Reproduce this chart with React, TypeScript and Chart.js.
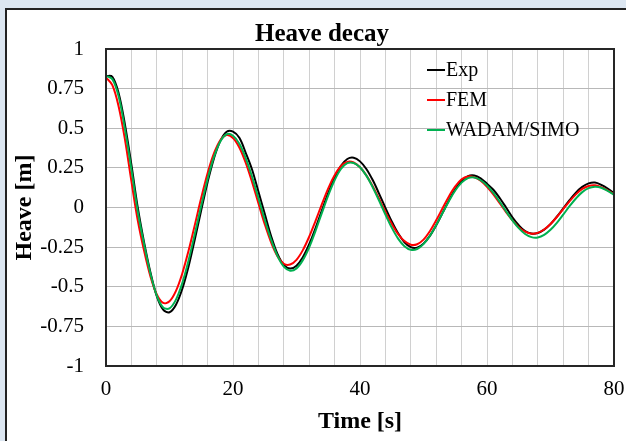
import React, { useEffect, useRef } from "react";
import { Chart, registerables } from "chart.js";

Chart.register(...registerables);

const TIME = [
  0, 1, 2, 3, 4, 5, 6, 7, 8, 9, 10, 11, 12, 13, 14, 15, 16, 17, 18, 19, 20,
  21, 22, 23, 24, 25, 26, 27, 28, 29, 30, 31, 32, 33, 34, 35, 36, 37, 38, 39, 40,
  41, 42, 43, 44, 45, 46, 47, 48, 49, 50, 51, 52, 53, 54, 55, 56, 57, 58, 59, 60,
  61, 62, 63, 64, 65, 66, 67, 68, 69, 70, 71, 72, 73, 74, 75, 76, 77, 78, 79, 80,
];

const EXP = [
  0.83, 0.825, 0.72, 0.52, 0.27, 0.0, -0.22, -0.41, -0.56, -0.645, -0.661,
  -0.615, -0.515, -0.372, -0.199, -0.016, 0.16, 0.31, 0.42, 0.478, 0.479,
  0.44, 0.345, 0.24, 0.1, -0.04, -0.18, -0.293, -0.362, -0.385, -0.367,
  -0.314, -0.232, -0.13, -0.018, 0.092, 0.19, 0.263, 0.306, 0.314, 0.291,
  0.243, 0.173, 0.088, -0.002, -0.088, -0.163, -0.219, -0.25, -0.253, -0.228,
  -0.179, -0.112, -0.034, 0.045, 0.115, 0.168, 0.198, 0.202, 0.184, 0.15,
  0.112, 0.06, 0.0, -0.062, -0.112, -0.149, -0.164, -0.161, -0.14, -0.105,
  -0.058, -0.006, 0.046, 0.094, 0.13, 0.152, 0.157, 0.143, 0.12, 0.09,
];

const FEM = [
  0.82, 0.772, 0.636, 0.426, 0.166, -0.081, -0.273, -0.435, -0.549, -0.602, -0.592,
  -0.528, -0.418, -0.273, -0.108, 0.061, 0.216, 0.341, 0.424, 0.457, 0.439,
  0.379, 0.283, 0.161, 0.027, -0.105, -0.22, -0.307, -0.355, -0.36, -0.33,
  -0.269, -0.184, -0.084, 0.021, 0.121, 0.203, 0.262, 0.288, 0.284, 0.254,
  0.203, 0.134, 0.055, -0.027, -0.103, -0.167, -0.212, -0.235, -0.232, -0.203,
  -0.15, -0.081, -0.005, 0.07, 0.133, 0.178, 0.196, 0.191, 0.169, 0.131,
  0.083, 0.027, -0.029, -0.081, -0.124, -0.152, -0.165, -0.16, -0.139, -0.104,
  -0.06, -0.01, 0.039, 0.083, 0.117, 0.136, 0.14, 0.128, 0.108, 0.085,
];

const WADAM = [
  0.83, 0.81, 0.7, 0.49, 0.24, -0.025, -0.233, -0.418, -0.556, -0.631, -0.636,
  -0.583, -0.479, -0.334, -0.164, 0.013, 0.18, 0.319, 0.416, 0.462, 0.453,
  0.402, 0.312, 0.194, 0.06, -0.077, -0.203, -0.305, -0.373, -0.399, -0.384,
  -0.332, -0.251, -0.147, -0.034, 0.077, 0.172, 0.243, 0.28, 0.281, 0.254,
  0.201, 0.128, 0.044, -0.044, -0.127, -0.196, -0.244, -0.267, -0.262, -0.231,
  -0.179, -0.111, -0.035, 0.04, 0.107, 0.157, 0.185, 0.189, 0.172, 0.139,
  0.092, 0.036, -0.024, -0.081, -0.13, -0.167, -0.187, -0.189, -0.173, -0.141,
  -0.097, -0.045, 0.008, 0.057, 0.097, 0.122, 0.131, 0.125, 0.105, 0.08,
];

const SERIES_LABELS = ["Exp", "FEM", "WADAM/SIMO"];
const SERIES_COLORS = ["#000000", "#ff0000", "#00b050"];
const X_LABELED_TICKS = [0, 20, 40, 60, 80];

const SERIF = "'Liberation Serif', 'Times New Roman', serif";

const frameAndLegend = {
  id: "frameAndLegend",
  afterDraw(chart: any) {
    const { ctx, chartArea: a } = chart;
    ctx.save();
    ctx.strokeStyle = "#262626";
    ctx.lineWidth = 2;
    ctx.strokeRect(a.left, a.top, a.right - a.left, a.bottom - a.top);
    const x0 = a.left + 321;
    let y = a.top + 21;
    ctx.font = `20px ${SERIF}`;
    ctx.textBaseline = "middle";
    ctx.textAlign = "left";
    ctx.fillStyle = "#000";
    chart.data.datasets.forEach((ds: any) => {
      ctx.strokeStyle = ds.borderColor;
      ctx.lineWidth = 2;
      ctx.beginPath();
      ctx.moveTo(x0, y);
      ctx.lineTo(x0 + 18, y);
      ctx.stroke();
      ctx.fillText(ds.label, x0 + 19, y + 1);
      y += 30;
    });
    ctx.restore();
  },
};

export default function App() {
  const ref = useRef<HTMLCanvasElement | null>(null);

  useEffect(() => {
    if (!ref.current) return;
    const seriesValues = [EXP, FEM, WADAM];
    const chart = new Chart(ref.current, {
      type: "line",
      data: {
        datasets: seriesValues.map((vals, i) => ({
          label: SERIES_LABELS[i],
          data: TIME.map((t, j) => ({ x: t, y: vals[j] })),
          borderColor: SERIES_COLORS[i],
          backgroundColor: SERIES_COLORS[i],
          borderWidth: 2,
          pointRadius: 0,
          tension: 0.35,
          fill: false,
          order: 3 - i,
        })),
      },
      options: {
        responsive: false,
        maintainAspectRatio: false,
        animation: false,
        devicePixelRatio: 1,
        layout: { padding: 0 },
        plugins: {
          legend: { display: false },
          tooltip: { enabled: false },
          title: {
            display: true,
            text: "Heave decay",
            color: "#000",
            font: { family: SERIF, size: 25, weight: "bold" },
            padding: { top: 10, bottom: -1 },
          },
        },
        scales: {
          x: {
            type: "linear",
            min: 0,
            max: 80,
            afterFit: (s: any) => {
              s.height = 75;
            },
            ticks: {
              stepSize: 4,
              autoSkip: false,
              maxRotation: 0,
              padding: 11,
              color: "#000",
              font: { family: SERIF, size: 21 },
              callback: (v: any) => (X_LABELED_TICKS.includes(Number(v)) ? String(v) : ""),
            },
            grid: { color: "#d0d0d0", lineWidth: 1, drawTicks: false },
            border: { display: false },
            title: {
              display: true,
              text: "Time [s]",
              color: "#000",
              font: { family: SERIF, size: 24, weight: "bold" },
              padding: { top: 0, bottom: 5 },
            },
          },
          y: {
            min: -1,
            max: 1,
            afterFit: (s: any) => {
              s.width = 99;
            },
            ticks: {
              stepSize: 0.25,
              padding: 22,
              color: "#000",
              font: { family: SERIF, size: 21 },
              callback: (v: any) => String(Math.round(Number(v) * 100) / 100),
            },
            grid: { color: "#b8b8b8", lineWidth: 1, drawTicks: false },
            border: { display: false },
            title: {
              display: true,
              text: "Heave [m]",
              color: "#000",
              font: { family: SERIF, size: 24, weight: "bold" },
              padding: { top: 3, bottom: 0 },
            },
          },
          yRight: {
            position: "right",
            min: -1,
            max: 1,
            afterFit: (s: any) => {
              s.width = 23;
            },
            ticks: { display: false },
            grid: { display: false, drawTicks: false },
            border: { display: false },
          },
        },
      },
      plugins: [frameAndLegend],
    });
    return () => chart.destroy();
  }, []);

  return (
    <div
      style={{
        position: "fixed",
        left: 0,
        top: 0,
        width: 626,
        height: 441,
        overflow: "hidden",
        background: "#dce6f1",
      }}
    >
      <div
        style={{
          position: "absolute",
          left: 5,
          top: 8,
          width: 700,
          height: 500,
          border: "2px solid #222",
          background: "#fff",
        }}
      >
        <canvas
          ref={ref}
          width={630}
          height={431}
          style={{ position: "absolute", left: 0, top: 0, width: 630, height: 431 }}
        />
      </div>
    </div>
  );
}
